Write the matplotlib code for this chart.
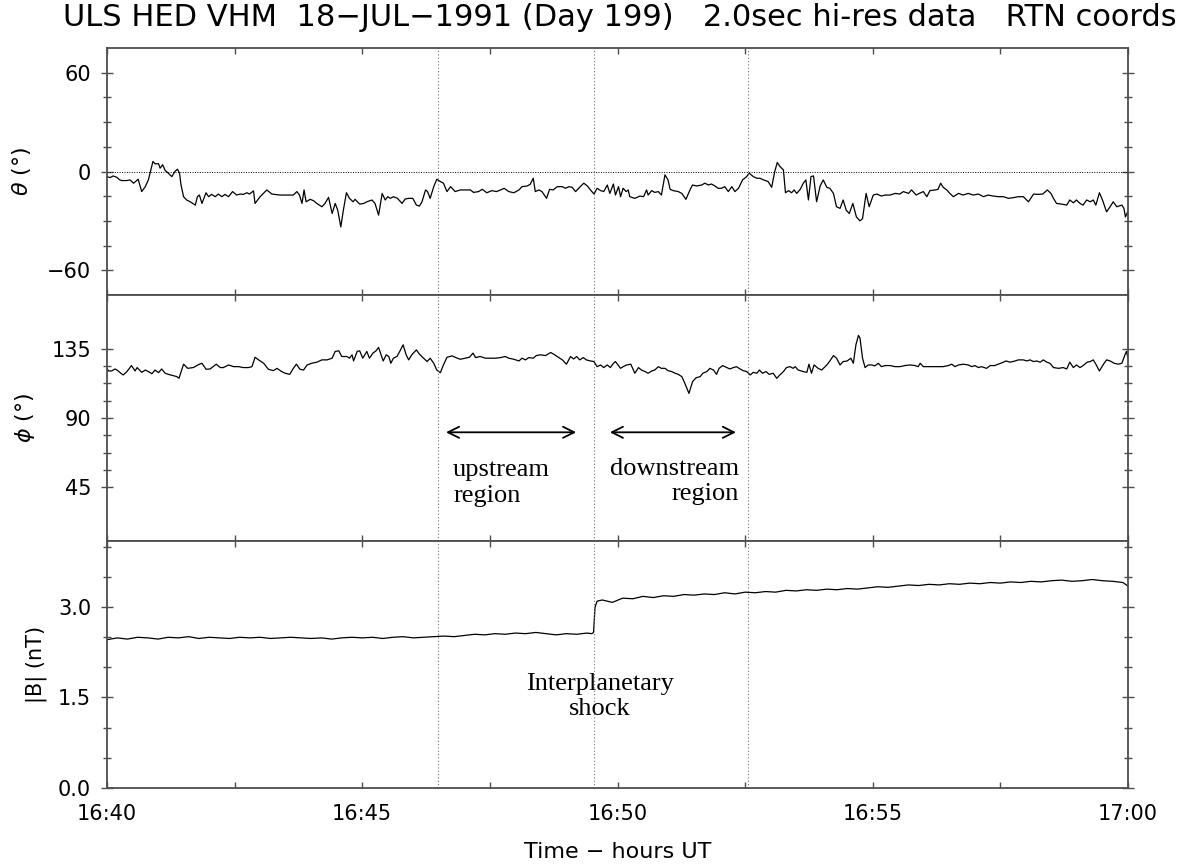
import numpy as np
import matplotlib
matplotlib.use('Agg')
import matplotlib.pyplot as plt

# minutes after 16:40 UT
theta_min = [
    0.00, 0.06, 0.12, 0.19, 0.25, 0.29, 0.39, 0.45, 0.52, 0.58,
    0.61, 0.68, 0.75, 0.81, 0.90, 0.94, 1.01, 1.04, 1.09, 1.14,
    1.20, 1.27, 1.33, 1.38, 1.42, 1.45, 1.50, 1.56, 1.63, 1.73,
    1.77, 1.81, 1.86, 1.94, 1.99, 2.05, 2.12, 2.18, 2.25, 2.31,
    2.38, 2.46, 2.54, 2.61, 2.67, 2.74, 2.79, 2.87, 2.90, 3.00,
    3.13, 3.23, 3.39, 3.52, 3.65, 3.72, 3.77, 3.82, 3.86, 3.90,
    3.98, 4.05, 4.11, 4.21, 4.27, 4.34, 4.41, 4.47, 4.52, 4.58,
    4.63, 4.69, 4.75, 4.82, 4.86, 4.95, 5.03, 5.09, 5.19, 5.25,
    5.32, 5.39, 5.45, 5.50, 5.55, 5.61, 5.69, 5.78, 5.84, 5.91,
    5.99, 6.06, 6.12, 6.17, 6.24, 6.28, 6.33, 6.40, 6.46, 6.53,
    6.59, 6.66, 6.73, 6.82, 6.92, 7.02, 7.12, 7.18, 7.28, 7.35,
    7.44, 7.54, 7.63, 7.71, 7.78, 7.87, 7.97, 8.07, 8.13, 8.23,
    8.29, 8.35, 8.39, 8.46, 8.52, 8.61, 8.67, 8.74, 8.82, 8.92,
    8.98, 9.05, 9.11, 9.18, 9.27, 9.34, 9.41, 9.47, 9.54, 9.60,
    9.67, 9.73, 9.80, 9.85, 9.92, 9.96,
    10.02, 10.06, 10.11, 10.17, 10.21, 10.24, 10.34, 10.44, 10.51, 10.57,
    10.60, 10.67, 10.73, 10.80, 10.86, 10.93, 10.99, 11.03, 11.09, 11.19,
    11.26, 11.34, 11.42, 11.47, 11.55, 11.65, 11.71, 11.78, 11.84, 11.91,
    11.97, 12.04, 12.10, 12.17, 12.24, 12.30, 12.37, 12.45, 12.53, 12.58,
    12.66, 12.73, 12.79, 12.86, 12.95, 13.02, 13.08, 13.13, 13.18, 13.25,
    13.29, 13.35, 13.41, 13.46, 13.51, 13.58, 13.64, 13.69, 13.74, 13.79,
    13.84, 13.90, 13.97, 14.03, 14.10, 14.16, 14.23, 14.29, 14.36, 14.42,
    14.48, 14.54, 14.61, 14.68, 14.75, 14.80, 14.87, 14.93, 15.01, 15.08,
    15.17, 15.24, 15.34, 15.44, 15.53, 15.60, 15.70, 15.76, 15.85, 15.91,
    15.99, 16.06, 16.12, 16.22, 16.28, 16.33, 16.38, 16.45, 16.51, 16.58,
    16.68, 16.77, 16.87, 16.97, 17.07, 17.17, 17.26, 17.36, 17.46, 17.56,
    17.66, 17.75, 17.85, 17.95, 18.05, 18.15, 18.24, 18.33, 18.42, 18.49,
    18.54, 18.60, 18.70, 18.80, 18.86, 18.93, 18.99, 19.06, 19.12, 19.19,
    19.26, 19.32, 19.37, 19.44, 19.50, 19.58, 19.65, 19.71, 19.78, 19.88,
    19.92, 19.95, 20.00]
theta_deg = [
    -3.1, -3.7, -2.7, -3.5, -5.1, -5.5, -5.5, -5.1, -7.1, -5.5,
    -4.7, -12.2, -9.2, -5.1, 6.1, 4.7, 4.7, 2.0, 4.1, 0.6,
    -1.0, -3.1, 0.0, 1.4, -1.0, -8.2, -15.3, -17.3, -18.4, -20.4,
    -15.3, -14.3, -19.4, -12.9, -15.3, -13.9, -15.3, -13.7, -15.3, -13.9,
    -15.3, -12.2, -14.3, -13.7, -13.9, -12.9, -13.7, -11.8, -19.4, -15.3,
    -11.2, -13.7, -14.3, -14.3, -14.3, -12.2, -14.3, -19.4, -11.2, -18.4,
    -16.9, -17.8, -19.4, -21.4, -19.4, -15.7, -25.5, -19.4, -23.5, -33.7,
    -23.5, -12.9, -16.3, -18.4, -16.9, -19.8, -19.4, -18.4, -17.3, -19.4,
    -26.5, -13.3, -17.3, -15.3, -16.3, -15.3, -16.3, -19.4, -16.7, -16.3,
    -16.3, -20.4, -21.0, -18.4, -11.2, -12.2, -16.3, -9.2, -4.7, -6.1,
    -7.1, -12.2, -9.2, -12.2, -11.2, -11.2, -11.2, -12.7, -12.2, -10.8,
    -12.9, -11.6, -12.2, -11.2, -10.2, -12.2, -12.9, -11.2, -9.2, -8.8,
    -7.8, -4.1, -12.2, -11.2, -12.2, -16.3, -10.8, -11.2, -9.2, -9.2,
    -10.2, -9.2, -9.6, -12.2, -9.2, -7.1, -8.8, -11.2, -13.7, -10.2,
    -11.6, -12.2, -8.2, -13.3, -7.6, -14.3,
    -9.2, -15.3, -10.2, -12.2, -11.2, -15.3, -16.3, -14.9, -15.3, -11.2,
    -14.3, -11.6, -12.7, -12.2, -14.3, -2.0, -5.1, -10.8, -11.6, -12.2,
    -13.3, -16.9, -11.2, -8.2, -8.8, -8.2, -7.1, -8.2, -7.6, -8.8,
    -10.2, -10.2, -9.2, -12.2, -9.2, -12.2, -10.2, -5.1, -3.1, -1.0,
    -3.1, -4.1, -4.1, -5.1, -6.1, -9.6, 0.0, 5.5, 3.1, 1.0,
    -12.9, -11.6, -12.9, -11.2, -13.3, -10.8, -7.1, -5.1, -17.3, -3.1,
    -2.7, -18.4, -8.8, -5.1, -9.6, -10.2, -13.3, -21.4, -22.4, -17.3,
    -23.5, -25.5, -19.4, -27.6, -30.0, -28.6, -13.3, -21.4, -14.3, -13.7,
    -14.9, -14.3, -14.3, -13.3, -13.7, -12.2, -13.3, -11.2, -14.3, -13.3,
    -12.2, -15.3, -11.6, -11.2, -10.8, -7.1, -9.6, -11.2, -13.3, -15.3,
    -13.3, -14.3, -13.3, -14.3, -13.7, -15.3, -14.3, -14.9, -15.3, -15.3,
    -16.3, -15.9, -15.3, -15.3, -18.4, -13.7, -13.9, -13.7, -11.2, -13.3,
    -16.3, -19.4, -19.8, -20.4, -17.3, -19.0, -17.3, -19.4, -20.4, -17.3,
    -18.4, -17.3, -20.4, -12.9, -17.3, -24.5, -21.4, -18.4, -21.4, -20.4,
    -22.4, -27.6, -24.0]

phi_min = [
    0.00, 0.03, 0.09, 0.16, 0.22, 0.27, 0.32, 0.39, 0.48, 0.55,
    0.59, 0.68, 0.75, 0.81, 0.88, 0.94, 1.01, 1.07, 1.14, 1.20,
    1.30, 1.37, 1.41, 1.50, 1.58, 1.69, 1.81, 1.86, 1.94, 2.02,
    2.14, 2.22, 2.28, 2.38, 2.48, 2.58, 2.67, 2.77, 2.84, 2.90,
    2.97, 3.07, 3.16, 3.26, 3.33, 3.42, 3.49, 3.58, 3.65, 3.71,
    3.78, 3.85, 3.92, 4.01, 4.11, 4.21, 4.31, 4.41, 4.47, 4.54,
    4.60, 4.70, 4.75, 4.80, 4.83, 4.90, 4.95, 5.01, 5.09, 5.14,
    5.21, 5.27, 5.32, 5.41, 5.47, 5.52, 5.56, 5.61, 5.68, 5.75,
    5.80, 5.86, 5.91, 5.97, 6.06, 6.12, 6.20, 6.27, 6.33, 6.40,
    6.46, 6.53, 6.59, 6.66, 6.76, 6.82, 6.92, 7.02, 7.10, 7.17,
    7.22, 7.31, 7.41, 7.51, 7.61, 7.71, 7.80, 7.87, 7.97, 8.07,
    8.13, 8.20, 8.26, 8.35, 8.41, 8.49, 8.59, 8.69, 8.75, 8.82,
    8.92, 9.00, 9.08, 9.14, 9.20, 9.26, 9.33, 9.39, 9.47, 9.54,
    9.60, 9.67, 9.73, 9.80, 9.86, 9.92, 9.96,
    10.06, 10.11, 10.18, 10.26, 10.34, 10.41, 10.47, 10.54, 10.60, 10.67,
    10.73, 10.80, 10.86, 10.93, 10.99, 11.06, 11.13, 11.19, 11.26, 11.32,
    11.40, 11.47, 11.54, 11.62, 11.67, 11.75, 11.81, 11.88, 11.94, 11.99,
    12.06, 12.14, 12.20, 12.27, 12.33, 12.40, 12.46, 12.53, 12.60, 12.66,
    12.73, 12.78, 12.84, 12.91, 12.97, 13.05, 13.12, 13.18, 13.25, 13.31,
    13.38, 13.44, 13.48, 13.54, 13.64, 13.71, 13.75, 13.80, 13.85, 13.93,
    14.00, 14.10, 14.16, 14.23, 14.29, 14.36, 14.42, 14.50, 14.57, 14.62,
    14.67, 14.72, 14.75, 14.80, 14.85, 14.91, 14.98, 15.04, 15.11, 15.17,
    15.24, 15.34, 15.44, 15.53, 15.63, 15.73, 15.83, 15.89, 15.93, 15.99,
    16.12, 16.25, 16.38, 16.48, 16.55, 16.61, 16.68, 16.77, 16.87, 16.94,
    17.00, 17.07, 17.13, 17.23, 17.30, 17.39, 17.46, 17.56, 17.61, 17.69,
    17.79, 17.85, 17.95, 18.02, 18.08, 18.15, 18.21, 18.28, 18.34, 18.41,
    18.47, 18.54, 18.64, 18.73, 18.80, 18.86, 18.93, 18.99, 19.06, 19.12,
    19.20, 19.26, 19.32, 19.37, 19.44, 19.52, 19.58, 19.65, 19.73, 19.81,
    19.88, 19.94, 19.97, 20.00]
phi_deg = [
    122.3, 120.6, 120.6, 121.9, 120.6, 119.1, 118.0, 120.2, 124.1, 120.6,
    122.8, 119.7, 121.2, 120.2, 118.8, 121.2, 119.5, 121.9, 119.1, 118.4,
    117.5, 116.9, 115.8, 125.0, 122.3, 122.8, 125.0, 125.6, 121.7, 121.9,
    125.0, 122.8, 122.8, 124.5, 123.4, 123.4, 122.8, 122.8, 123.4, 129.5,
    127.8, 125.6, 121.7, 120.8, 122.3, 120.2, 119.1, 118.4, 122.3, 125.0,
    121.7, 121.2, 124.5, 125.6, 126.3, 127.8, 127.8, 128.9, 133.3, 133.7,
    130.0, 130.0, 128.9, 131.1, 127.1, 133.3, 133.7, 128.9, 133.3, 128.9,
    132.2, 133.7, 135.9, 127.1, 131.1, 130.0, 125.6, 128.9, 130.0, 134.3,
    137.6, 131.1, 127.8, 131.1, 134.3, 131.5, 128.9, 126.7, 128.9, 125.6,
    121.2, 119.5, 124.5, 129.5, 130.4, 129.5, 128.2, 128.9, 129.5, 132.2,
    129.3, 130.0, 128.9, 128.9, 128.9, 129.3, 130.0, 128.9, 128.2, 127.1,
    128.9, 127.8, 129.3, 128.9, 130.6, 131.1, 130.6, 132.6, 131.5, 130.0,
    127.8, 125.0, 130.0, 128.4, 130.0, 127.8, 129.3, 127.8, 127.1, 126.7,
    123.4, 124.5, 122.8, 124.5, 122.8, 125.6, 126.7,
    122.3, 123.4, 124.5, 125.0, 119.1, 122.8, 121.2, 120.2, 119.1, 120.6,
    121.2, 123.4, 122.3, 122.3, 120.8, 120.2, 119.1, 118.4, 116.9, 112.5,
    106.0, 113.6, 116.2, 116.9, 119.1, 120.2, 122.3, 121.2, 118.4, 122.3,
    124.1, 122.8, 121.9, 122.8, 123.4, 121.9, 120.8, 120.2, 118.0, 119.7,
    119.1, 121.2, 119.1, 120.2, 118.4, 119.1, 115.8, 118.0, 120.2, 122.8,
    123.4, 122.3, 123.4, 121.2, 120.2, 119.7, 125.0, 119.1, 124.5, 122.3,
    121.2, 124.5, 127.1, 130.6, 128.9, 124.5, 126.7, 127.1, 128.9, 125.6,
    137.6, 143.7, 142.0, 128.9, 122.8, 124.5, 124.5, 123.9, 125.6, 123.4,
    124.1, 124.1, 123.4, 123.4, 124.1, 124.5, 124.1, 123.4, 125.6, 123.4,
    123.4, 123.4, 123.4, 124.1, 125.0, 123.4, 124.5, 125.0, 124.5, 123.4,
    124.1, 122.8, 123.4, 122.3, 124.1, 124.1, 125.0, 126.3, 127.1, 126.3,
    127.1, 127.8, 127.8, 127.1, 127.8, 126.7, 127.1, 126.3, 127.8, 126.3,
    125.6, 122.8, 122.3, 122.8, 121.9, 126.3, 122.8, 124.5, 122.8, 124.1,
    126.3, 126.7, 127.8, 125.0, 120.6, 125.0, 127.8, 127.1, 125.6, 125.0,
    125.6, 131.1, 133.3, 128.9]

b_min = np.r_[np.arange(0, 9.41, 0.2), 9.5, 9.53, 9.56, 9.6,
              np.arange(9.7, 19.91, 0.2), 20.0]
b_nt = [
    2.46, 2.49, 2.47, 2.50, 2.49, 2.47, 2.50, 2.49,
    2.51, 2.48, 2.50, 2.49, 2.48, 2.50, 2.49, 2.50,
    2.48, 2.49, 2.50, 2.49, 2.48, 2.49, 2.47, 2.49,
    2.50, 2.49, 2.50, 2.48, 2.50, 2.51, 2.49, 2.50,
    2.51, 2.52, 2.51, 2.53, 2.55, 2.54, 2.56, 2.55,
    2.57, 2.56, 2.58, 2.56, 2.54, 2.56, 2.55, 2.57,
    2.56, 2.58, 3.00, 3.10,
    3.12, 3.08, 3.15, 3.14, 3.18, 3.16, 3.19, 3.18,
    3.21, 3.20, 3.22, 3.21, 3.24, 3.22, 3.25, 3.24,
    3.26, 3.25, 3.28, 3.27, 3.29, 3.28, 3.30, 3.29,
    3.31, 3.30, 3.32, 3.34, 3.33, 3.35, 3.37, 3.36,
    3.38, 3.37, 3.39, 3.38, 3.40, 3.39, 3.41, 3.40,
    3.42, 3.41, 3.43, 3.42, 3.44, 3.45, 3.43, 3.44,
    3.46, 3.44, 3.43, 3.41,
    3.35]

region_marks = [6.49, 9.53, 12.56]   # dotted vertical lines
time_labels = ['16:40', '16:45', '16:50', '16:55', '17:00']

fig = plt.figure(figsize=(11.81, 8.66), dpi=100)
W, H = 1181, 866
x0, x1 = 107, 1128
edges = [48, 295, 541, 787.7]
axes = []
for i in range(3):
    ax = fig.add_axes([x0 / W, 1 - edges[i + 1] / H, (x1 - x0) / W,
                       (edges[i + 1] - edges[i]) / H])
    axes.append(ax)
ax1, ax2, ax3 = axes

ax1.plot(theta_min, theta_deg, color='black', lw=0.9)
ax1.axhline(0, color='black', ls=(0, (1, 1.5)), lw=0.7)
ax2.plot(phi_min, phi_deg, color='black', lw=0.9)
ax3.plot(b_min, b_nt, color='black', lw=0.9)

ax1.set_ylim(-75, 75)
ax1.set_yticks([-60, 0, 60])
ax1.set_yticklabels(['\u221260', '0', '60'])
ax1.set_yticks(np.arange(-60, 61, 15), minor=True)
ax2.set_ylim(10, 170)
ax2.set_yticks([45, 90, 135])
ax2.set_yticklabels(['45', '90', '135'])
ax2.set_yticks(np.arange(45, 136, 11.25), minor=True)
ax3.set_ylim(0, 4.1)
ax3.set_yticks([0, 1.5, 3.0])
ax3.set_yticklabels(['0.0', '1.5', '3.0'])
ax3.set_yticks(np.arange(0, 4.01, 0.5), minor=True)

for ax in axes:
    ax.set_xlim(0, 20)
    ax.set_xticks([0, 5, 10, 15, 20])
    ax.set_xticks([2.5, 7.5, 12.5, 17.5], minor=True)
    ax.tick_params(axis='x', which='both', direction='in', top=True,
                   bottom=True, length=4, width=1, color='0.3',
                   labelbottom=False, pad=12, labelsize=15)
    ax.tick_params(axis='y', which='major', direction='inout', length=9,
                   width=1, color='0.3', left=True, right=True, pad=7,
                   labelsize=15)
    ax.tick_params(axis='y', which='minor', direction='inout', length=6,
                   width=1, color='0.3', left=True, right=True)
    for sp in ax.spines.values():
        sp.set_color('0.3')
        sp.set_linewidth(1.3)
    for t in region_marks:
        ax.axvline(t, color='0.45', ls=(0, (1, 2)), lw=0.8)

ax3.set_xticklabels(time_labels)
ax3.tick_params(axis='x', labelbottom=True)

ax1.set_ylabel(r'$\theta$ (°)', fontsize=16)
ax1.yaxis.set_label_coords(-0.0725, 0.5)
ax2.set_ylabel(r'$\phi$ (°)', fontsize=16)
ax2.yaxis.set_label_coords(-0.0686, 0.5)
ax3.set_ylabel('|B| (nT)', fontsize=15)
ax3.yaxis.set_label_coords(-0.0588, 0.5)

serif = ['Liberation Serif', 'DejaVu Serif']
arrow = dict(arrowstyle='<->,head_length=0.8,head_width=0.4', lw=1.3,
             color='black', shrinkA=0, shrinkB=0)
ax2.annotate('', xy=(9.19, 80.7), xytext=(6.64, 80.7), arrowprops=arrow)
ax2.annotate('', xy=(12.32, 80.7), xytext=(9.85, 80.7), arrowprops=arrow)
ax2.text(6.78, 47.8, 'upstream\nregion', family=serif, fontsize=19,
         ha='left', va='center', linespacing=1.2)
ax2.text(12.38, 48.6, 'downstream\nregion', family=serif, fontsize=19,
         ha='right', va='center', multialignment='right', linespacing=1.2)
ax3.text(9.66, 1.52, 'Interplanetary\nshock', family=serif, fontsize=19,
         ha='center', va='center', multialignment='center', linespacing=1.2)

fig.text(0.5246, 1 - 17 / H,
         'ULS HED VHM  18\u2212JUL\u22121991 (Day 199)   2.0sec hi-res data   RTN coords',
         ha='center', va='center', fontsize=22)
fig.text((x0 + x1) / 2 / W, 1 - 852 / H, 'Time \u2212 hours UT',
         ha='center', va='center', fontsize=16)

fig.savefig('out.png', dpi=100)
